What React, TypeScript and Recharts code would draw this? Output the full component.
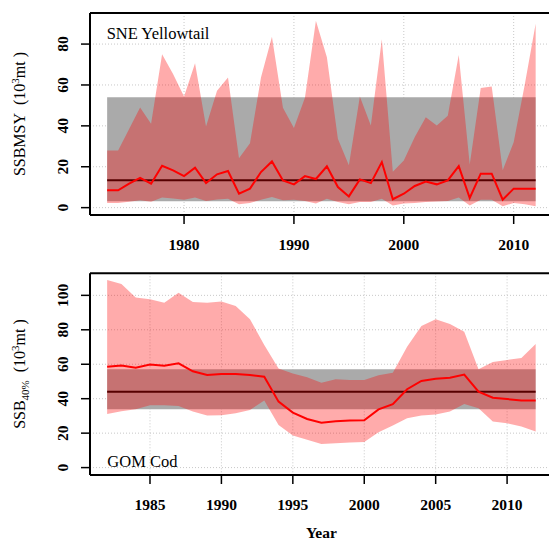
import React from 'react'
import {
  ComposedChart,
  Area,
  Line,
  XAxis,
  YAxis,
  CartesianGrid,
  ReferenceLine
} from 'recharts'

// SNE Yellowtail (SSB_MSY), thousand mt
const sneYears = [
  1973, 1974, 1975, 1976, 1977, 1978, 1979, 1980, 1981, 1982,
  1983, 1984, 1985, 1986, 1987, 1988, 1989, 1990, 1991, 1992,
  1993, 1994, 1995, 1996, 1997, 1998, 1999, 2000, 2001, 2002,
  2003, 2004, 2005, 2006, 2007, 2008, 2009, 2010, 2011, 2012
]
const sneUpper = [
  28, 28, 38.5, 49, 41, 75, 65.4, 54.3, 70.6, 39.7,
  57.2, 63.7, 24.2, 31.5, 63.7, 83.6, 48.8, 39, 53.7, 91.4,
  73.5, 33.7, 20.7, 54.3, 40.2, 82.4, 17.6, 23.1, 34.5, 44.2,
  40.2, 45, 74.6, 21.1, 58.5, 59.3, 18.3, 32, 60, 90
]
const sneMedian = [
  8.5, 8.5, 11.7, 14.6, 11.7, 20.5, 18.2, 15.4, 19.5, 12.0,
  16.3, 17.9, 6.8, 9.3, 17.4, 22.6, 13.3, 11.4, 15.4, 14.0,
  20.2, 10.1, 5.5, 13.8, 12.0, 22.3, 4.1, 6.8, 10.6, 12.8,
  11.4, 13.3, 20.3, 4.7, 16.6, 16.6, 3.9, 9.3, 9.3, 9.3
]
const sneLower = [
  2.3, 2.3, 2.9, 3.6, 2.9, 4.9, 4.5, 3.9, 4.9, 3.3,
  4.0, 4.4, 1.6, 2.3, 3.9, 5.2, 3.6, 3.9, 3.3, 2.0,
  4.4, 2.8, 1.6, 2.8, 2.8, 4.4, 1.1, 2.0, 2.3, 2.8,
  3.0, 3.3, 4.9, 1.1, 3.9, 3.9, 0.7, 2.3, 1.6, 0.7
]
const sneRef = 13.4
const sneBand = [3.1, 54]

// GOM Cod (SSB_40%), thousand mt
const gomYears = [
  1982, 1983, 1984, 1985, 1986, 1987, 1988, 1989, 1990, 1991,
  1992, 1993, 1994, 1995, 1996, 1997, 1998, 1999, 2000, 2001,
  2002, 2003, 2004, 2005, 2006, 2007, 2008, 2009, 2010, 2011,
  2012
]
const gomUpper = [
  108.9, 106.6, 98.8, 97.7, 95.7, 101.5, 96.1, 95.7, 96.5, 93.8,
  86.1, 71.2, 57.6, 54.7, 52.4, 49.3, 51.3, 50.9, 50.9, 53.6,
  55.1, 70.2, 82.2, 86.1, 83.4, 78.9, 57.1, 61.3, 62.5, 63.6,
  71.8
]
const gomMedian = [
  58.6, 59.2, 58.0, 59.8, 59.2, 60.5, 55.9, 53.8, 54.4, 54.4,
  53.8, 52.8, 38.3, 31.9, 28.2, 26.1, 26.9, 27.3, 27.5, 33.8,
  36.8, 45.5, 50.3, 51.6, 52.2, 54.0, 44.1, 40.6, 39.8, 38.9,
  38.9
]
const gomLower = [
  31.1, 32.7, 33.8, 36.2, 36.2, 35.8, 32.5, 30.2, 30.4, 31.5,
  33.5, 38.9, 24.8, 18.6, 16.1, 13.7, 14.1, 14.5, 14.9, 20.5,
  24.4, 28.6, 30.2, 30.8, 32.5, 36.9, 34.4, 26.7, 25.7, 23.8,
  20.9
]
const gomRef = 44.1
const gomBand = [33.8, 57.1]

const sneXTicks = [1980, 1990, 2000, 2010]
const gomXTicks = [1985, 1990, 1995, 2000, 2005, 2010]
const sneYTicks = [0, 20, 40, 60, 80]
const gomYTicks = [0, 20, 40, 60, 80, 100]

const FONT = '"Liberation Serif", "DejaVu Serif", serif'
const AXIS_X = 90
const TICK_LEN = 9
const Y_LABEL_X = 67.7

interface PanelLayout {
  top: number
  height: number
  marginTop: number
  xAxisHeight: number
  xDomain: [number, number]
  yDomain: [number, number]
}

const sneLayout: PanelLayout = {
  top: 0,
  height: 260,
  marginTop: 13,
  xAxisHeight: 45,
  xDomain: [1971.44, 2013.56],
  yDomain: [-3.6, 95.2]
}
const gomLayout: PanelLayout = {
  top: 260,
  height: 280,
  marginTop: 13.3,
  xAxisHeight: 65,
  xDomain: [1980.8, 2013.2],
  yDomain: [-4.3, 112.8]
}

const buildRows = (years: number[], lo: number[], mid: number[], hi: number[]) =>
  years.map((year, i) => ({ year, lo: lo[i], mid: mid[i], hi: hi[i] }))

// y of a value on a panel's y axis, inside the chart (same linear scale as the chart's)
const chartY = (layout: PanelLayout, v: number) => {
  const plotH = layout.height - layout.marginTop - layout.xAxisHeight
  const [lo, hi] = layout.yDomain
  return layout.marginTop + ((hi - v) / (hi - lo)) * plotH
}
const pageY = (layout: PanelLayout, v: number) => layout.top + chartY(layout, v)

const renderXTick = (props: any) => {
  const { x, y, payload } = props
  return (
    <text
      key={`xt-${payload.value}`}
      x={x}
      y={y + 11}
      textAnchor="middle"
      fontFamily={FONT}
      fontSize={15.5}
      fontWeight="bold"
      fill="#000"
    >
      {payload.value}
    </text>
  )
}

interface PanelProps {
  rows: { year: number; lo: number; mid: number; hi: number }[]
  band: number[]
  refLevel: number
  layout: PanelLayout
  xTicks: number[]
  yTicks: number[]
}

function Panel({ rows, band, refLevel, layout, xTicks, yTicks }: PanelProps) {
  return (
    <div style={{ position: 'absolute', left: 0, top: layout.top }}>
      <ComposedChart
        width={560}
        height={layout.height}
        data={rows}
        margin={{ top: layout.marginTop, right: 7.2, bottom: 0, left: 0 }}
      >
        <CartesianGrid
          stroke="#c8c8c8"
          strokeDasharray="1 2"
          horizontalPoints={yTicks.map((t) => chartY(layout, t))}
        />
        <XAxis
          dataKey="year"
          type="number"
          domain={layout.xDomain}
          ticks={xTicks}
          allowDataOverflow
          height={layout.xAxisHeight}
          tickSize={TICK_LEN}
          tickMargin={15}
          tick={renderXTick}
          axisLine={{ stroke: '#000', strokeWidth: 2 }}
          tickLine={{ stroke: '#000', strokeWidth: 1.5 }}
        />
        {/* y tick marks and rotated labels are drawn in the overlay below */}
        <YAxis
          type="number"
          domain={layout.yDomain}
          ticks={yTicks}
          allowDataOverflow
          width={AXIS_X}
          tick={false}
          axisLine={{ stroke: '#000', strokeWidth: 2 }}
        />
        <ReferenceLine y={layout.yDomain[1]} stroke="#000" strokeWidth={2} />
        <Area
          dataKey={() => band}
          type="linear"
          stroke="none"
          fill="#aaaaaa"
          fillOpacity={1}
          isAnimationActive={false}
        />
        <Area
          dataKey={(d: any) => [d.lo, d.hi]}
          type="linear"
          stroke="none"
          fill="#ff0000"
          fillOpacity={0.33}
          isAnimationActive={false}
        />
        {/* black reference line seen through the translucent red band */}
        <Line
          dataKey={() => refLevel}
          type="linear"
          stroke="#560000"
          strokeWidth={2}
          dot={false}
          isAnimationActive={false}
        />
        <Line
          dataKey="mid"
          type="linear"
          stroke="#ff0000"
          strokeWidth={2}
          dot={false}
          isAnimationActive={false}
        />
      </ComposedChart>
    </div>
  )
}

// y ticks with labels running along the axis, like R's default las=0
function YTicks({ layout, ticks }: { layout: PanelLayout; ticks: number[] }) {
  return (
    <>
      {ticks.map((t) => {
        const y = pageY(layout, t)
        return (
          <g key={t}>
            <line x1={AXIS_X - TICK_LEN} x2={AXIS_X} y1={y} y2={y} stroke="#000" strokeWidth={1.5} />
            <text
              x={Y_LABEL_X}
              y={y}
              transform={`rotate(-90, ${Y_LABEL_X}, ${y})`}
              textAnchor="middle"
              fontSize={15.5}
              fontWeight="bold"
              fill="#000"
            >
              {t}
            </text>
          </g>
        )
      })}
    </>
  )
}

export default function App() {
  const sneRows = buildRows(sneYears, sneLower, sneMedian, sneUpper)
  const gomRows = buildRows(gomYears, gomLower, gomMedian, gomUpper)

  return (
    <div
      style={{
        position: 'absolute',
        left: 0,
        top: 0,
        width: 549,
        height: 540,
        overflow: 'hidden',
        background: '#fff'
      }}
    >
      <Panel rows={sneRows} band={sneBand} refLevel={sneRef} layout={sneLayout} xTicks={sneXTicks} yTicks={sneYTicks} />
      <Panel rows={gomRows} band={gomBand} refLevel={gomRef} layout={gomLayout} xTicks={gomXTicks} yTicks={gomYTicks} />
      <svg
        width={549}
        height={540}
        style={{ position: 'absolute', left: 0, top: 0, pointerEvents: 'none' }}
        fontFamily={FONT}
      >
        <YTicks layout={sneLayout} ticks={sneYTicks} />
        <YTicks layout={gomLayout} ticks={gomYTicks} />
        <text x={106.7} y={39.3} fontSize={16.5} fill="#000">SNE Yellowtail</text>
        <text x={107.3} y={467.3} fontSize={16.5} fill="#000">GOM Cod</text>
        <text x={25} y={114} transform="rotate(-90, 25, 114)" textAnchor="middle" fontSize={16} fill="#000">
          SSBMSY{'\u2002'}(10<tspan dy={-6} fontSize={11}>3</tspan><tspan dy={6}>mt )</tspan>
        </text>
        <text x={25} y={374} transform="rotate(-90, 25, 374)" textAnchor="middle" fontSize={16} fill="#000">
          SSB<tspan dy={4} fontSize={11}>40%</tspan><tspan dy={-4}>{'\u2002'}(10</tspan>
          <tspan dy={-6} fontSize={11}>3</tspan><tspan dy={6}>mt )</tspan>
        </text>
        <text x={321.4} y={537.5} textAnchor="middle" fontSize={15.5} fontWeight="bold" fill="#000">Year</text>
      </svg>
    </div>
  )
}
